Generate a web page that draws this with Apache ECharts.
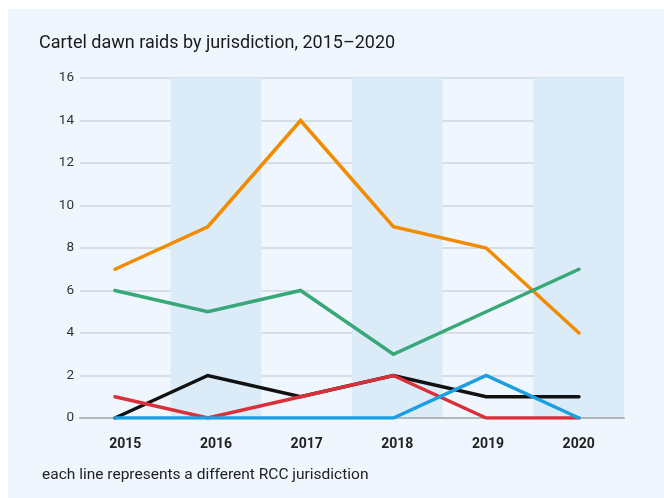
<!DOCTYPE html>
<html>
<head>
<meta charset="utf-8">
<script src="https://cdn.jsdelivr.net/npm/echarts@6/dist/echarts.min.js"></script>
<style>html,body{margin:0;padding:0;background:#fff}#c{width:664px;height:498px}</style>
</head>
<body>
<div id="c"></div>
<script>
const categories = ['2015', '2016', '2017', '2018', '2019', '2020'];
const seriesA = [7, 9, 14, 9, 8, 4];   // orange
const seriesB = [6, 5, 6, 3, 5, 7];    // green
const seriesC = [0, 2, 1, 2, 1, 1];    // black
const seriesD = [1, 0, 1, 2, 0, 0];    // red
const seriesE = [0, 0, 0, 0, 2, 0];    // blue
const yTicks = [0, 2, 4, 6, 8, 10, 12, 14, 16];

const titleText = 'Cartel dawn raids by jurisdiction, 2015–2020';
const noteText = 'each line represents a different RCC jurisdiction';

const colors = ['#f28b00', '#38a878', '#111111', '#d9313b', '#1c9fe2'];
const allSeries = [seriesA, seriesB, seriesC, seriesD, seriesE];

const chart = echarts.init(document.getElementById('c'), null, {renderer: 'canvas'});
chart.setOption({
  backgroundColor: '#ffffff',
  animation: false,
  graphic: [
    {type: 'rect', z: -10, silent: true, shape: {x: 8, y: 9, width: 700, height: 520}, style: {fill: '#eff6fd'}},
    {type: 'text', left: 42, top: 467, style: {text: noteText, font: '15.5px Roboto, "Noto Sans", sans-serif', fill: '#222'}}
  ],
  title: {
    text: titleText, left: 34, top: 29,
    textStyle: {fontFamily: 'Roboto, sans-serif', fontWeight: 'normal', fontSize: 18, color: '#1a1a1a'}
  },
  grid: {left: 80, right: 40, top: 78, bottom: 80},
  xAxis: [
    {
      type: 'category', data: categories, boundaryGap: true, position: 'bottom',
      axisLine: {show: false}, axisTick: {show: false},
      axisLabel: {fontFamily: 'Roboto, sans-serif', fontWeight: 'bold', fontSize: 14, color: '#222', margin: 19},
      splitArea: {show: true, areaStyle: {color: ['rgba(0,0,0,0)', '#dcebf8']}},
      splitLine: {show: false}
    },
    {
      type: 'value', min: -0.377, max: 5.485, position: 'bottom',
      axisLine: {show: true, onZero: false, lineStyle: {color: '#b3b8bd', width: 2}},
      axisTick: {show: false}, axisLabel: {show: false}, splitLine: {show: false}
    }
  ],
  yAxis: {
    type: 'value', min: yTicks[0], max: yTicks[yTicks.length - 1], interval: 2,
    axisLine: {show: false}, axisTick: {show: false},
    axisLabel: {fontFamily: 'Roboto, sans-serif', fontSize: 13.5, color: '#333', margin: 6},
    splitLine: {lineStyle: {color: '#cdd6df', width: 1.5}}
  },
  series: allSeries.map((vals, k) => ({
    type: 'line', xAxisIndex: 1,
    data: vals.map((v, i) => [i, v]),
    symbol: 'none', lineStyle: {color: colors[k], width: 3.5, cap: 'round', join: 'miter'},
    itemStyle: {color: colors[k]}, z: 3 + k
  }))
});
</script>
</body>
</html>
